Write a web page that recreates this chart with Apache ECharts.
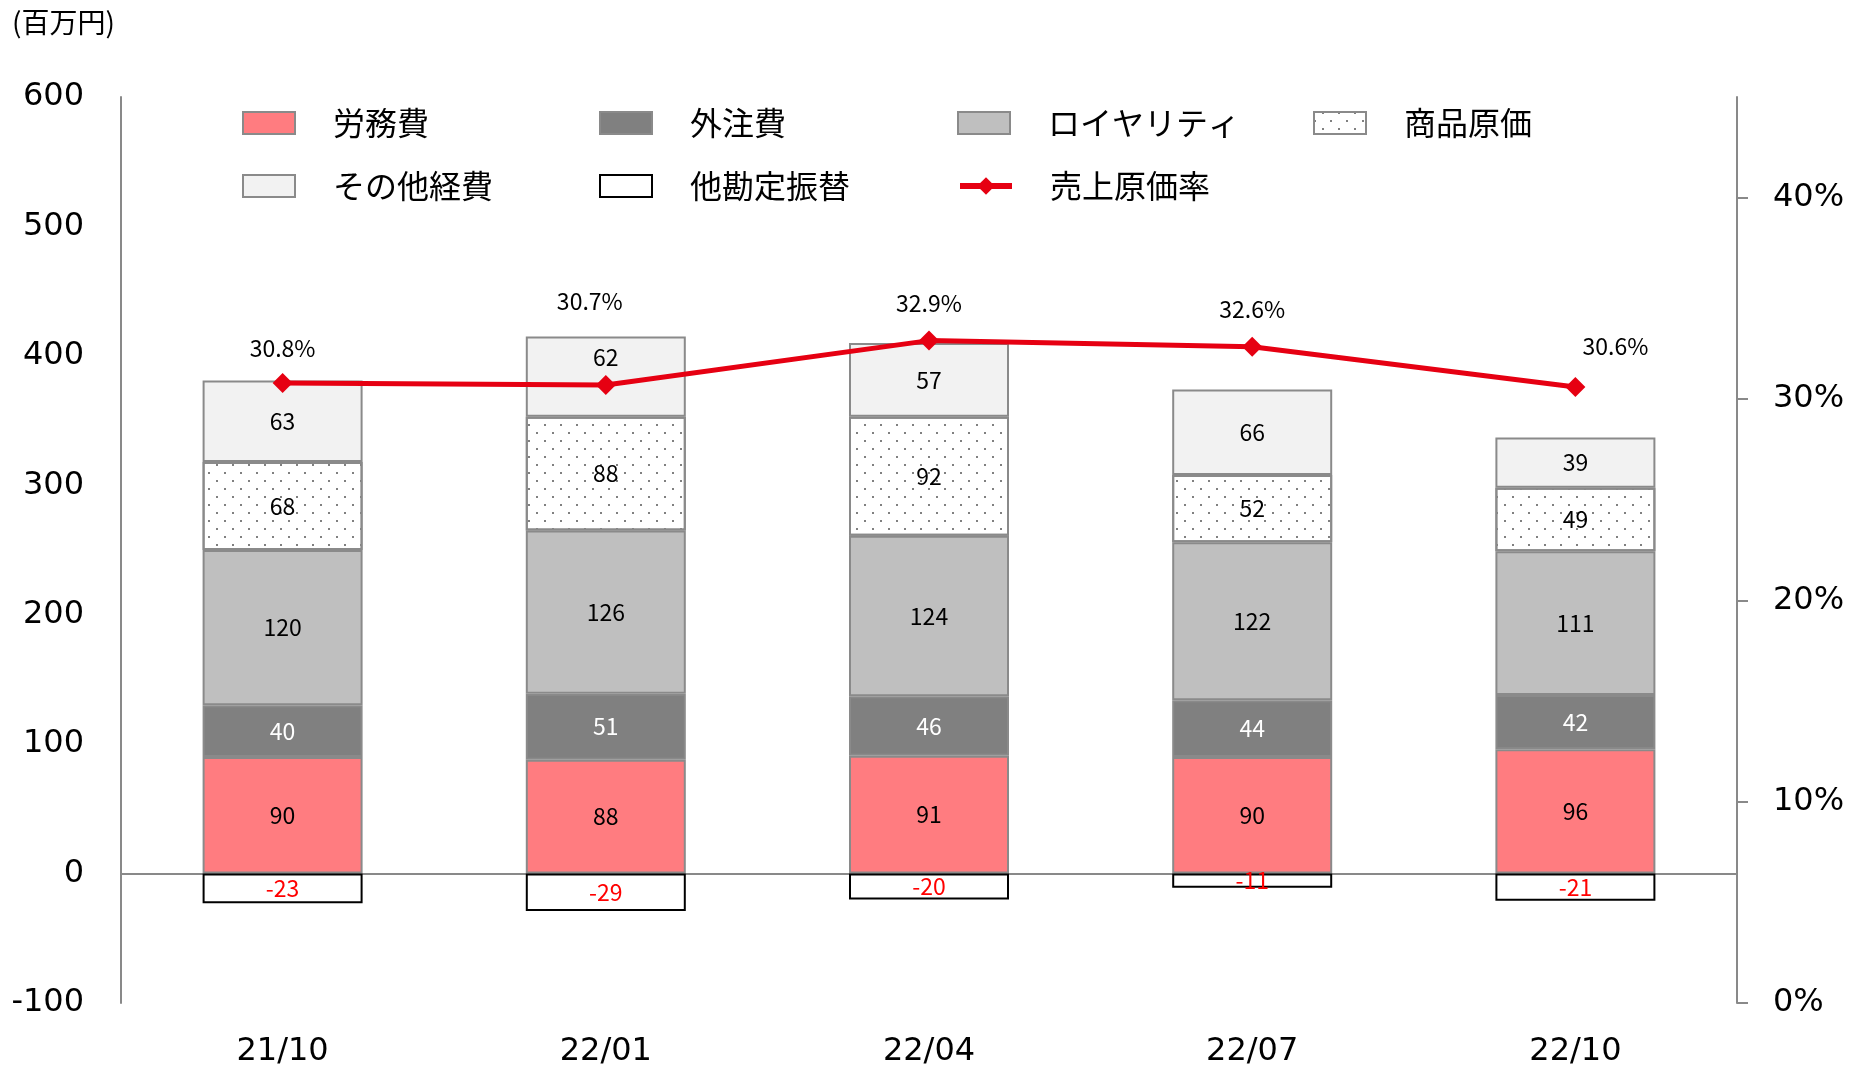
<!DOCTYPE html>
<html>
<head>
<meta charset="utf-8">
<script src="https://cdn.jsdelivr.net/npm/echarts@6/dist/echarts.min.js"></script>
<style>
html,body{margin:0;padding:0;background:#fff;}
#chart{width:1871px;height:1068px;}
</style>
</head>
<body>
<div id="chart"></div>
<script>
const categories = ['21/10', '22/01', '22/04', '22/07', '22/10'];
const labor = [90, 88, 91, 90, 96];          // 労務費
const outsourcing = [40, 51, 46, 44, 42];    // 外注費
const royalty = [120, 126, 124, 122, 111];   // ロイヤリティ
const goods = [68, 88, 92, 52, 49];          // 商品原価
const other = [63, 62, 57, 66, 39];          // その他経費
const transfer = [-23, -29, -20, -11, -21];  // 他勘定振替
const costRate = [30.8, 30.7, 32.9, 32.6, 30.6]; // 売上原価率 (%)
const rightTicks = [0, 10, 20, 30, 40];

const FONT = "'Noto Sans CJK JP', 'Noto Sans', sans-serif";
const NUMFONT = "'DejaVu Sans', sans-serif";
const rateLabelOffsets = [[0, -35], [-16, -84], [0, -37], [0, -37], [40, -41]];
const otherLabelOffsets = [[0, 0], [0, -19], [0, 0], [0, 0], [0, 0]];
const GRAY = '#898989';
const BORDER = '#8a8a8a';

const chart = echarts.init(document.getElementById('chart'));

function barSeries(name, values, color, labelColor, extra) {
  return Object.assign({
    name: name,
    type: 'bar',
    stack: 'cost',
    xAxisIndex: 0,
    yAxisIndex: 0,
    barWidth: 160,
    data: values,
    itemStyle: { color: color, borderColor: BORDER, borderWidth: 2 },
    label: { show: true, position: 'inside', fontSize: 23, color: labelColor, fontFamily: FONT },
    emphasis: { disabled: true }
  }, extra || {});
}

const legendItems = [
  { name: '労務費', left: 242, top: 107 },
  { name: '外注費', left: 599, top: 107 },
  { name: 'ロイヤリティ', left: 957, top: 107 },
  { name: '商品原価', left: 1313, top: 107 },
  { name: 'その他経費', left: 242, top: 170 },
  { name: '他勘定振替', left: 599, top: 170 },
  { name: '売上原価率', left: 957, top: 170, line: true }
];

const option = {
  animation: false,
  textStyle: { fontFamily: FONT },
  aria: { enabled: false },
  legend: legendItems.map(it => Object.assign({
    data: [it.name],
    left: it.left,
    top: it.top,
    padding: 0,
    itemWidth: 52,
    itemHeight: 22,
    selectedMode: false,
    textStyle: { fontSize: 32, color: '#000', fontFamily: FONT, padding: [0, 0, 0, 33] }
  }, it.line ? { lineStyle: { width: 6 } } : { icon: 'rect' })),
  graphic: [{
    type: 'text',
    left: 12,
    top: 8,
    style: { text: '(百万円)', fontSize: 28, fill: '#000', fontFamily: FONT }
  }],
  grid: { left: 121, right: 134, top: 97, bottom: 65, containLabel: false },
  xAxis: [{
    type: 'category',
    data: categories,
    position: 'bottom',
    axisLine: { show: false, onZero: false },
    axisTick: { show: false },
    axisLabel: { fontSize: 32, color: '#000', margin: 33, fontFamily: NUMFONT }
  }, {
    type: 'category',
    data: categories,
    position: 'bottom',
    axisLine: { show: true, onZero: true, onZeroAxisIndex: 0, lineStyle: { color: GRAY, width: 2 } },
    axisTick: { show: false },
    axisLabel: { show: false }
  }],
  yAxis: [{
    type: 'value',
    min: -100,
    max: 600,
    interval: 100,
    axisLine: { show: true, lineStyle: { color: GRAY, width: 2 } },
    axisTick: { show: false },
    splitLine: { show: false },
    axisLabel: { fontSize: 32, color: '#000', margin: 37, fontFamily: NUMFONT, padding: [0, 0, 12, 0] }
  }, {
    type: 'value',
    min: 0,
    max: 45,
    position: 'right',
    axisLine: { show: true, lineStyle: { color: GRAY, width: 2 } },
    axisTick: { show: true, length: 11, lineStyle: { color: GRAY, width: 2 }, customValues: rightTicks },
    splitLine: { show: false },
    axisLabel: { fontSize: 32, color: '#000', margin: 36, fontFamily: NUMFONT, customValues: rightTicks, formatter: '{value}%', padding: [0, 0, 10, 0] }
  }],
  series: [
    barSeries('労務費', labor, '#FF7C80', '#000'),
    barSeries('外注費', outsourcing, '#808080', '#fff'),
    barSeries('ロイヤリティ', royalty, '#BFBFBF', '#000'),
    barSeries('商品原価', goods, '#ffffff', '#000', {
      itemStyle: {
        color: '#ffffff', borderColor: BORDER, borderWidth: 2,
        decal: {
          symbol: 'rect',
          symbolSize: 1,
          color: '#808080',
          dashArrayX: [[2, 14], [0, 8, 2, 6]],
          dashArrayY: [2, 6],
          rotation: 0
        }
      }
    }),
    barSeries('その他経費', other.map((v, i) => ({ value: v, label: { offset: otherLabelOffsets[i] } })), '#F2F2F2', '#000'),
    barSeries('他勘定振替', transfer, '#ffffff', '#FF0000', {
      itemStyle: { color: '#ffffff', borderColor: '#000', borderWidth: 2 }
    }),
    {
      name: '売上原価率',
      type: 'line',
      xAxisIndex: 0,
      yAxisIndex: 1,
      z: 10,
      data: costRate.map((v, i) => ({
        value: v,
        label: { offset: rateLabelOffsets[i] }
      })),
      symbol: 'diamond',
      symbolSize: 20,
      lineStyle: { color: '#E60012', width: 5 },
      itemStyle: { color: '#E60012' },
      label: {
        show: true,
        position: 'inside',
        fontSize: 23,
        color: '#000',
        fontFamily: FONT,
        formatter: p => p.value.toFixed(1) + '%'
      },
      emphasis: { disabled: true }
    }
  ]
};
chart.setOption(option);
</script>
</body>
</html>
